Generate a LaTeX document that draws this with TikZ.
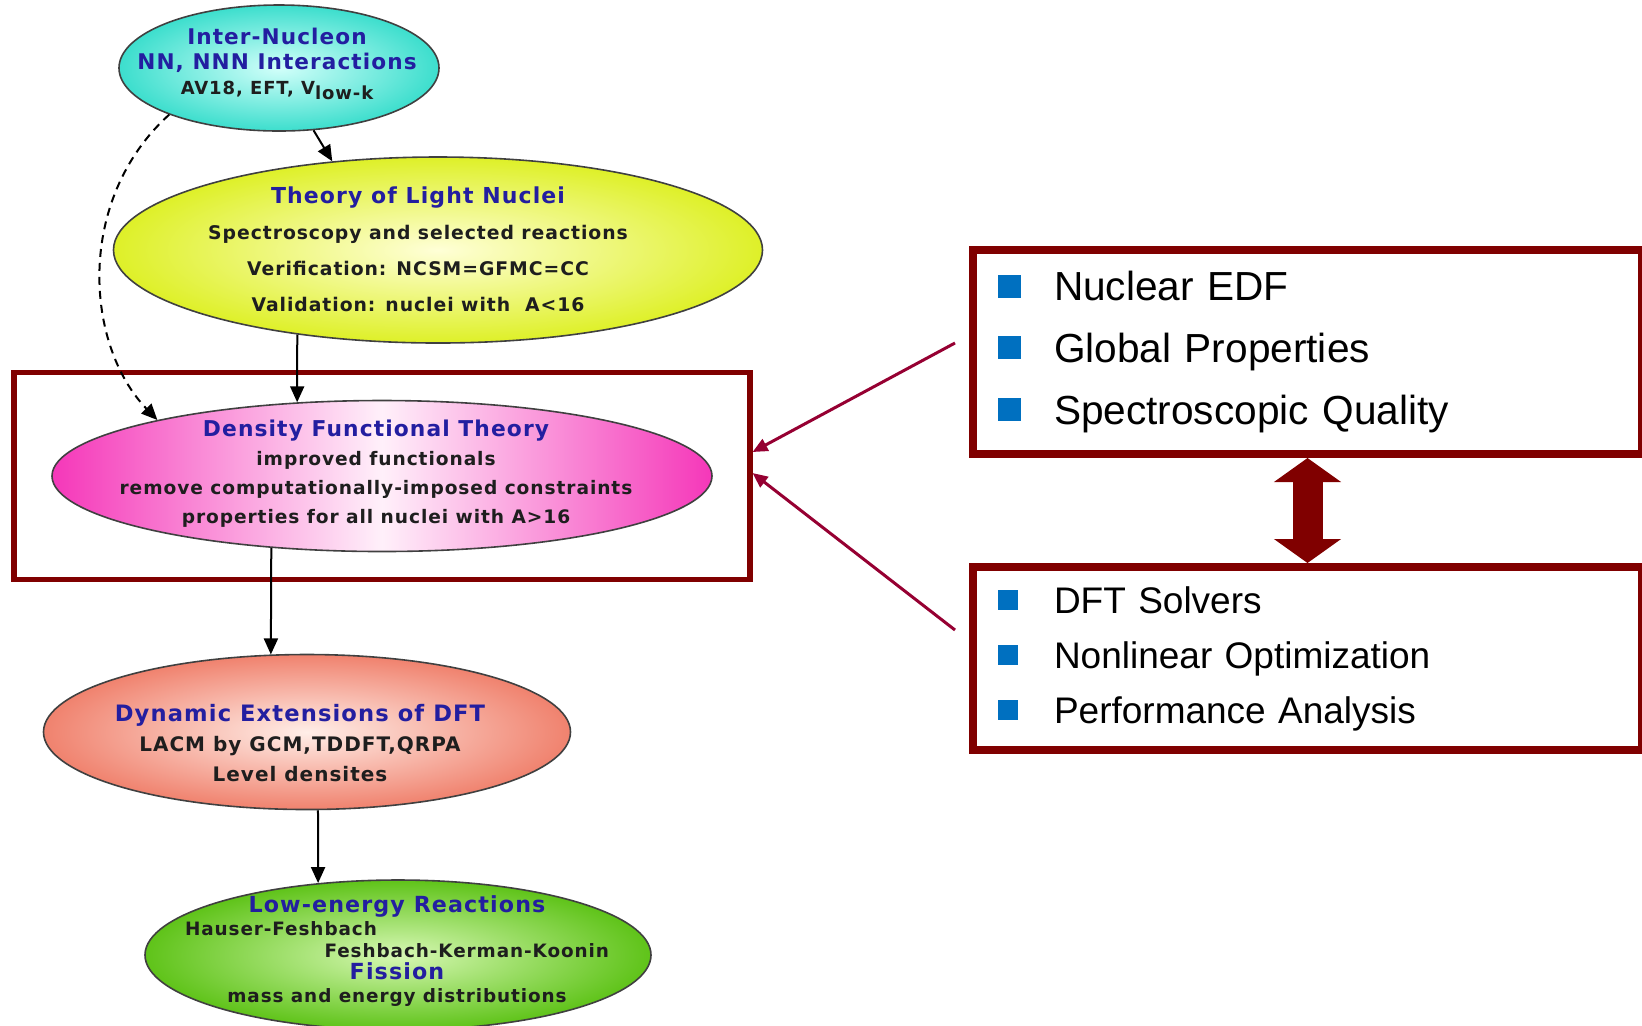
\documentclass[tikz,border=0pt]{standalone}
\usepackage{fontspec}
\setmainfont{Liberation Sans}
\newfontfamily\ellfont[LetterSpace=5]{DejaVu Sans}
\usepackage{xcolor}
\usetikzlibrary{shapes.geometric}
\usetikzlibrary{arrows.meta}
\usetikzlibrary{fit}
\definecolor{maroonbox}{RGB}{128,0,0}
\definecolor{linkred}{RGB}{150,0,50}
\definecolor{bulletblue}{RGB}{0,112,192}
\definecolor{titleblue}{RGB}{35,30,160}
\definecolor{bodygray}{RGB}{30,30,30}
\definecolor{turq}{RGB}{60,222,205}
\definecolor{turqlight}{RGB}{210,255,250}
\definecolor{lime}{RGB}{222,240,40}
\definecolor{limelight}{RGB}{255,255,215}
\definecolor{hotpink}{RGB}{245,55,185}
\definecolor{pinklight}{RGB}{255,240,250}
\definecolor{salmon}{RGB}{240,130,110}
\definecolor{salmonlight}{RGB}{255,238,232}
\definecolor{leaf}{RGB}{95,195,25}
\definecolor{leaflight}{RGB}{215,248,180}
\tikzset{%
  ell/.style={ellipse,draw=black!75,line width=0.8pt,inner sep=0pt},
  elltxt/.style={align=center,text=bodygray,inner sep=0pt},
  flow/.style={-{Triangle[length=8pt,width=7pt]},line width=1pt},
  dashflow/.style={flow,dash pattern=on 4pt off 3pt},
  linkarrow/.style={-{Triangle[length=7.5pt,width=6.5pt]},draw=linkred,line width=1.5pt},
  bigarrow/.style={{Triangle[length=12pt,width=33pt]}-{Triangle[length=12pt,width=33pt]},draw=maroonbox,line width=15pt},
  dftframe/.style={rectangle,draw=maroonbox,line width=2.75pt,inner xsep=18.5pt,inner ysep=13.5pt},
  listbox/.style={rectangle,draw=maroonbox,line width=4pt,anchor=north west,text width=309.5pt,inner xsep=12.5pt,align=left}
}
\newcommand\ttl[1]{{\color{titleblue}#1}}
\newcommand\sqitem[2]{\raisebox{\dimexpr(0.716em-#1)/2\relax}{\color{bulletblue}\rule{#1}{#1}}\hspace{\dimexpr 28pt-#1\relax}#2}

\begin{document}
\begin{tikzpicture}[x=0.5pt,y=-0.5pt]
\useasboundingbox (0,0) rectangle (1642,1025);

\node[ell,inner color=turqlight,outer color=turq,minimum width=160pt,minimum height=63pt] (inter) at (279,68) {};
\node[elltxt,font=\ellfont\bfseries\fontsize{9}{12.5}\selectfont] (intertxt) at (277,64)
  {\ttl{\fontsize{10.8}{12.5}\selectfont Inter-Nucleon}\\\ttl{\fontsize{10.8}{12.5}\selectfont NN, NNN Interactions}\\AV18, EFT, V\raisebox{-0.45ex}{low-k}};

\node[ell,inner color=limelight,outer color=lime,minimum width=324.5pt,minimum height=93pt] (light) at (438,250) {};
\node[elltxt,font=\ellfont\bfseries\fontsize{9.4}{18}\selectfont] (lighttxt) at (418,249)
  {\ttl{\fontsize{11}{18}\selectfont Theory of Light Nuclei}\\Spectroscopy and selected reactions\\Verification: NCSM=GFMC=CC\\Validation: nuclei with~~A<16};

\node[ell,left color=hotpink,right color=hotpink,middle color=pinklight,minimum width=330pt,minimum height=75.5pt] (dft) at (382,476) {};
\node[elltxt,font=\ellfont\bfseries\fontsize{9.3}{14.5}\selectfont] (dfttxt) at (376,474)
  {\ttl{\fontsize{10.9}{14.5}\selectfont Density Functional Theory}\\improved functionals\\remove computationally-imposed constraints\\properties for all nuclei with A>16};
\node[dftframe,fit=(dft)] (dftbox) {};

\node[ell,inner color=salmonlight,outer color=salmon,minimum width=263.5pt,minimum height=77.5pt] (dyn) at (307,732) {};
\node[elltxt,font=\ellfont\bfseries\fontsize{10}{15}\selectfont] (dyntxt) at (300,743)
  {\ttl{\fontsize{11.3}{15}\selectfont Dynamic Extensions of DFT}\\LACM by GCM,TDDFT,QRPA\\Level densites};

\node[ell,inner color=leaflight,outer color=leaf,minimum width=253pt,minimum height=75pt] (low) at (398,955) {};
\node[elltxt,font=\ellfont\bfseries\fontsize{9.2}{11.2}\selectfont] (lowtxt) at (397,951)
  {\ttl{\fontsize{11.1}{11.2}\selectfont Low-energy Reactions}\\\makebox[212pt][l]{Hauser-Feshbach}\\\makebox[212pt][r]{Feshbach-Kerman-Koonin}\\\ttl{\fontsize{11.1}{11.2}\selectfont Fission}\\mass and energy distributions};

\draw[flow] (inter.-61) -- (light.140);
\draw[flow] (light.211) -- (dft.139);
\draw[flow] (dft.213) -- (dyn.115);
\draw[flow] (dyn.-82) -- (low.138);
\draw[dashflow] (inter.203) .. controls (75,200) and (85,345) .. (dft.166);

\node[listbox,minimum height=102pt,font=\fontsize{20.3}{30.8}\selectfont] (edf) at (969,246)
  {\sqitem{11.5pt}{Nuclear EDF}\\\sqitem{11.5pt}{Global Properties}\\\sqitem{11.5pt}{Spectroscopic Quality}};
\node[listbox,minimum height=91.5pt,font=\fontsize{18.5}{27.5}\selectfont] (solver) at (969,563)
  {\sqitem{10pt}{DFT Solvers}\\\sqitem{10pt}{Nonlinear Optimization}\\\sqitem{10pt}{Performance Analysis}};

\draw[bigarrow] (edf.south) -- (solver.north);

\coordinate (edfend) at (955,343);
\coordinate (solverend) at (955,630);
\draw[linkarrow] (edfend) -- ([yshift=12pt]dftbox.east);
\draw[linkarrow] (solverend) -- ([yshift=1.5pt]dftbox.east);
\end{tikzpicture}
\end{document}
